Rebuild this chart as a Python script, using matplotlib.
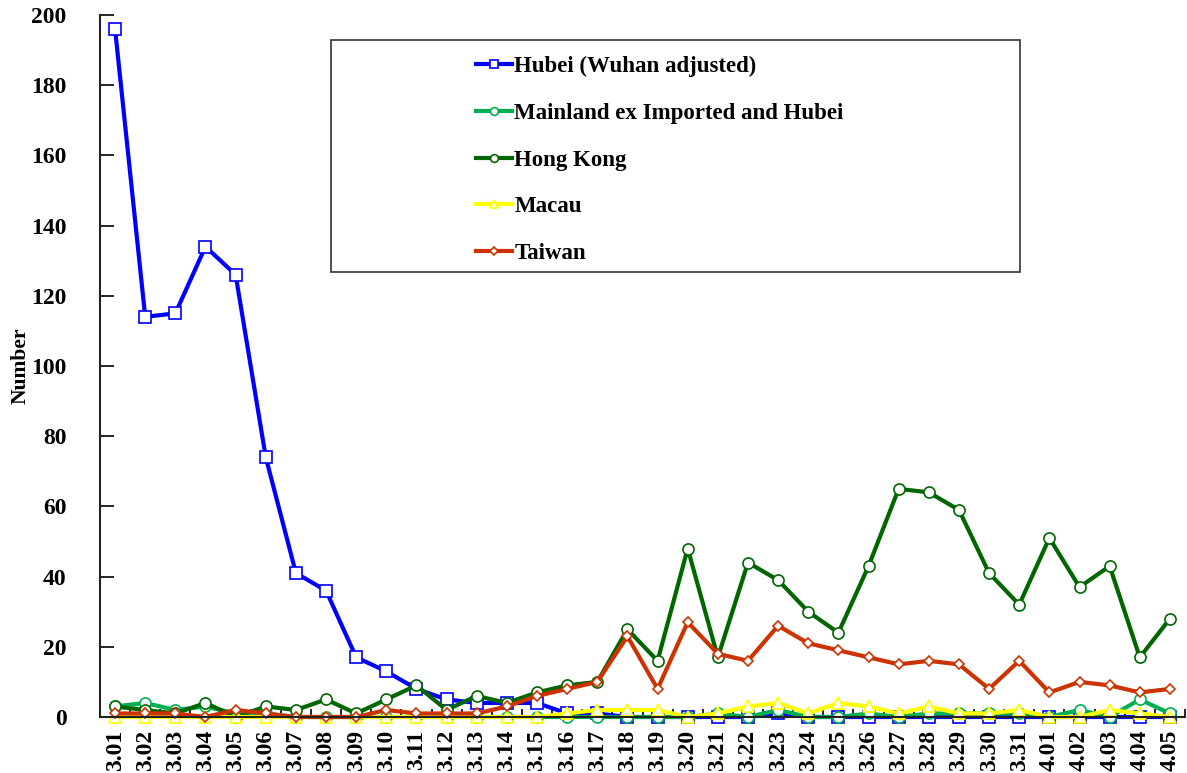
import matplotlib
matplotlib.use("Agg")
import matplotlib.pyplot as plt
from matplotlib.patches import Rectangle
from matplotlib.ticker import FixedLocator

dates = ["3.01", "3.02", "3.03", "3.04", "3.05", "3.06", "3.07", "3.08", "3.09", "3.10",
         "3.11", "3.12", "3.13", "3.14", "3.15", "3.16", "3.17", "3.18", "3.19", "3.20",
         "3.21", "3.22", "3.23", "3.24", "3.25", "3.26", "3.27", "3.28", "3.29", "3.30",
         "3.31", "4.01", "4.02", "4.03", "4.04", "4.05"]

hubei = [196, 114, 115, 134, 126, 74, 41, 36, 17, 13,
         8, 5, 4, 4, 4, 1, 1, 0, 0, 0,
         0, 0, 1, 0, 0, 0, 0, 0, 0, 0,
         0, 0, 0, 0, 0, 0]
mainland = [3, 4, 2, 3, 1, 1, 0, 0, 0, 0,
            0, 0, 0, 0, 0, 0, 0, 0, 0, 0,
            1, 0, 2, 0, 0, 1, 0, 1, 1, 1,
            1, 0, 2, 0, 5, 1]
hong_kong = [3, 2, 1, 4, 0, 3, 2, 5, 1, 5,
             9, 2, 6, 4, 7, 9, 10, 25, 16, 48,
             17, 44, 39, 30, 24, 43, 65, 64, 59, 41,
             32, 51, 37, 43, 17, 28]
macau = [0, 0, 0, 0, 0, 0, 0, 0, 0, 0,
         0, 0, 0, 0, 0, 1, 2, 2, 2, 0,
         1, 3, 4, 1, 4, 3, 1, 3, 1, 1,
         2, 0, 0, 2, 1, 0]
taiwan = [1, 1, 1, 0, 2, 1, 0, 0, 0, 2,
          1, 1, 1, 3, 6, 8, 10, 23, 8, 27,
          18, 16, 26, 21, 19, 17, 15, 16, 15, 8,
          16, 7, 10, 9, 7, 8]

labels = ["Hubei (Wuhan adjusted)", "Mainland ex Imported and Hubei",
          "Hong Kong", "Macau", "Taiwan"]
colors = ["#0000FF", "#00B050", "#006600", "#FFFF00", "#CC3300"]
markers = ["s", "o", "o", "^", "D"]
msizes = [8, 8, 8, 8, 5.5]

plt.rcParams['font.family'] = ['Liberation Serif', 'DejaVu Serif']
plt.rcParams['font.weight'] = 'bold'

fig = plt.figure(figsize=(11.87, 7.73), dpi=100)
ax = fig.add_axes([100 / 1187, 1 - 717 / 773, 1085 / 1187, 702 / 773])

x = list(range(len(dates)))
series = [hubei, mainland, hong_kong, macau, taiwan]
handles = []
for s, lab, c, m, ms in zip(series, labels, colors, markers, msizes):
    h, = ax.plot(x, s, color=c, lw=3, marker=m, markersize=ms,
                 markerfacecolor="white", markeredgecolor=c, markeredgewidth=1.2,
                 label=lab, clip_on=False)
    handles.append(h)

ax.set_xlim(-0.5, 35.5)
ax.set_ylim(0, 200)
ax.set_yticks(range(0, 201, 20))
ax.set_yticklabels([str(v) for v in range(0, 201, 20)], fontsize=17, fontweight='bold')
ax.tick_params(axis='y', direction='in', length=10, width=1.2, pad=24)
ax.set_xticks(x)
ax.set_xticklabels(dates, rotation=90, fontsize=17, fontweight='bold')
ax.tick_params(axis='x', which='major', length=0, pad=9)
ax.xaxis.set_minor_locator(FixedLocator([i + 0.5 for i in range(-1, 36)]))
ax.tick_params(axis='x', which='minor', direction='in', length=6, width=1.2)

for sp in ['top', 'right']:
    ax.spines[sp].set_visible(False)
for sp in ['left', 'bottom']:
    ax.spines[sp].set_linewidth(1.5)
    ax.spines[sp].set_color("#222222")

ax.set_ylabel("Number", fontsize=15.5, fontweight='bold')
ax.yaxis.set_label_coords(-69 / 1085, 0.5)

# legend frame
fig.patches.append(Rectangle((331 / 1187, 1 - 272 / 773), (1020 - 331) / 1187, (272 - 40) / 773,
                             transform=fig.transFigure, fill=True, facecolor="white",
                             edgecolor="#333333", lw=1.2, zorder=5))
leg = fig.legend(handles=handles, loc='upper left',
                 bbox_to_anchor=(476 / 1187, 1 - 56 / 773), frameon=False,
                 prop={'size': 16.5, 'weight': 'bold'}, labelspacing=1.12,
                 handlelength=1.55, handletextpad=0.12, markerscale=0.7,
                 borderpad=0, borderaxespad=0)
leg.set_zorder(6)

fig.savefig("out.png", dpi=100)
